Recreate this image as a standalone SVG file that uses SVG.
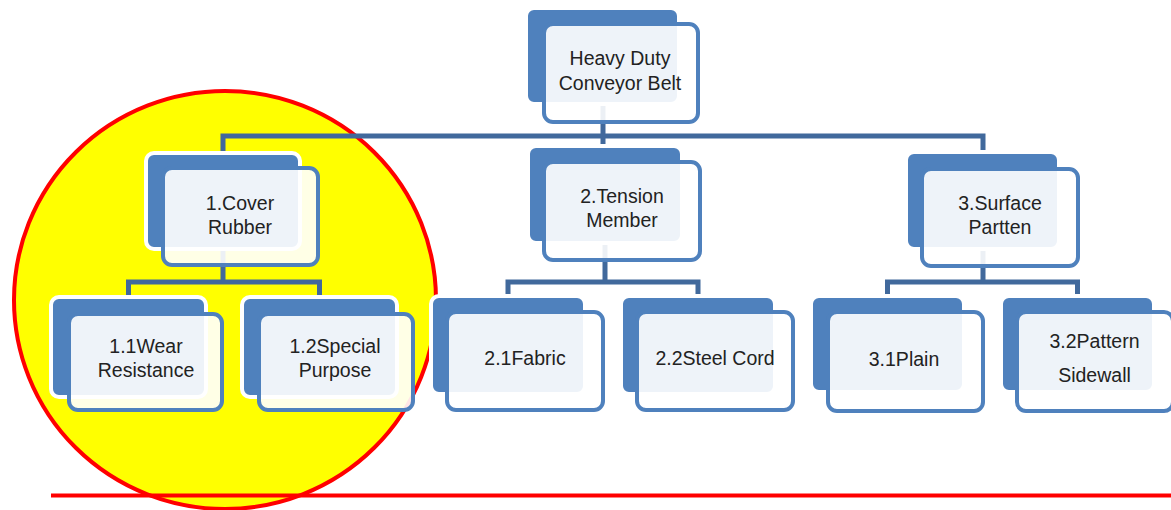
<svg xmlns="http://www.w3.org/2000/svg" width="1171" height="510" viewBox="0 0 1171 510">
<style>
.back{fill:#4F81BD;stroke:#FFFFFF;stroke-width:4}
.front{fill:#FFFFFF;fill-opacity:0.9;stroke:#4F81BD;stroke-width:4}
.conn{fill:none;stroke:#41699C;stroke-width:5;stroke-linejoin:miter;stroke-linecap:butt}
text{font-family:"Liberation Sans",Arial,sans-serif;font-size:19.5px;fill:#222222;text-anchor:middle}
</style>
<rect width="1171" height="510" fill="#FFFFFF"/>
<g id="highlight">
<ellipse cx="225" cy="300" rx="211" ry="209" fill="#FFFF00" stroke="#FF0000" stroke-width="4"/>
<line x1="51" y1="495.5" x2="1171" y2="495.5" stroke="#FF0000" stroke-width="4"/>
</g>
<g id="connectors">
<path class="conn" d="M603,100 V150 M223,157 V136 H983 V156"/>
<path class="conn" d="M223,245 V282 M128.5,301 V282 H319.5 V301"/>
<path class="conn" d="M605,240 V282 M508,300 V282 H698 V300"/>
<path class="conn" d="M983,245 V282 M887.5,300 V282 H1077.5 V300"/>
</g>
<g id="n0">
<rect class="back" x="526" y="8" width="153" height="96" rx="8"/>
<rect class="front" x="544" y="24" width="154" height="98" rx="9"/>
<text x="620" y="65">Heavy Duty</text>
<text x="620" y="90">Conveyor Belt</text>
</g>
<g id="n1">
<rect class="back" x="146" y="153" width="154" height="96" rx="8"/>
<rect class="front" x="163" y="168" width="155" height="97" rx="9"/>
<text x="240" y="210">1.Cover</text>
<text x="240" y="234">Rubber</text>
</g>
<g id="n2">
<rect class="back" x="528" y="146" width="154" height="97" rx="8"/>
<rect class="front" x="544" y="162" width="156" height="98" rx="9"/>
<text x="622" y="203">2.Tension</text>
<text x="622" y="227">Member</text>
</g>
<g id="n3">
<rect class="back" x="906" y="152" width="153" height="97" rx="8"/>
<rect class="front" x="922" y="169" width="156" height="97" rx="9"/>
<text x="1000" y="210">3.Surface</text>
<text x="1000" y="234">Partten</text>
</g>
<g id="n11">
<rect class="back" x="51" y="297" width="155" height="100" rx="8"/>
<rect class="front" x="69" y="314" width="153" height="96" rx="9"/>
<text x="146" y="353">1.1Wear</text>
<text x="146" y="377">Resistance</text>
</g>
<g id="n12">
<rect class="back" x="242" y="297" width="155" height="100" rx="8"/>
<rect class="front" x="259" y="314" width="154" height="96" rx="9"/>
<text x="335" y="353">1.2Special</text>
<text x="335" y="377">Purpose</text>
</g>
<g id="n21">
<rect class="back" x="431" y="296" width="154" height="98" rx="8"/>
<rect class="front" x="447" y="312" width="156" height="98" rx="9"/>
<text x="525" y="365">2.1Fabric</text>
</g>
<g id="n22">
<rect class="back" x="621" y="296" width="154" height="98" rx="8"/>
<rect class="front" x="637" y="312" width="156" height="98" rx="9"/>
<text x="715" y="365">2.2Steel Cord</text>
</g>
<g id="n31">
<rect class="back" x="811" y="296" width="153" height="96" rx="8"/>
<rect class="front" x="828" y="312" width="155" height="99" rx="9"/>
<text x="904" y="366">3.1Plain</text>
</g>
<g id="n32">
<rect class="back" x="1001" y="296" width="153" height="96" rx="8"/>
<rect class="front" x="1017" y="312" width="156" height="99" rx="9"/>
<text x="1094.5" y="348">3.2Pattern</text>
<text x="1094.5" y="382">Sidewall</text>
</g>
</svg>
